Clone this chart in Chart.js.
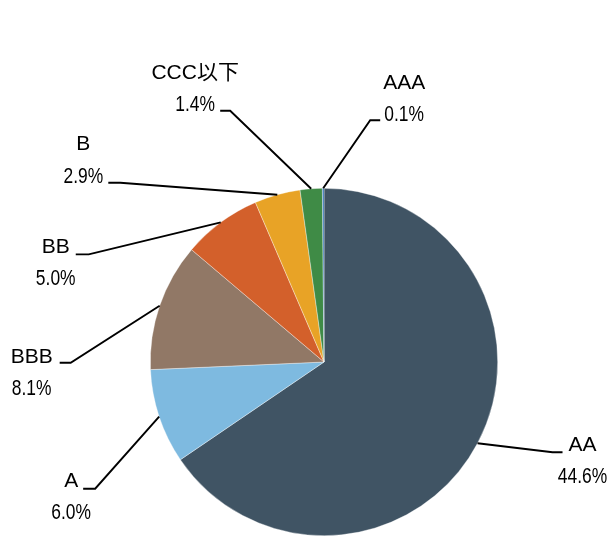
<!DOCTYPE html>
<html>
<head>
<meta charset="utf-8">
<script src="https://cdn.jsdelivr.net/npm/chart.js@4"></script>
<style>
  html, body { margin: 0; padding: 0; background: #fff; }
  #wrap { width: 610px; height: 538px; }
</style>
</head>
<body>
<div id="wrap"><canvas id="rating-pie" width="610" height="538"></canvas></div>
<script>
// Rating breakdown (share %), clockwise from 12 o'clock
const ratings = ['AA', 'A', 'BBB', 'BB', 'B', 'CCC以下', 'AAA'];
const shares = [44.6, 6.0, 8.1, 5.0, 2.9, 1.4, 0.1];
const sliceColors = ['#405464', '#7ebae0', '#917866', '#d3602b', '#e8a326', '#3f8b46', '#2d6db0'];

// leader line layout per label: elbow offset from slice edge, horizontal tail,
// text centre offset from tail end, first-line offset
const leaderLayout = [
  { dx: 75, dy: 9, tail: 10, tx: 20, ty: -7 },
  { dx: -64, dy: 72, tail: -12, tx: -12, ty: -8 },
  { dx: -89, dy: 57, tail: -11, tx: -28, ty: -6 },
  { dx: -132, dy: 32, tail: -13, tx: -20, ty: -7 },
  { dx: -157, dy: -12, tail: -12, tx: -25, ty: -38 },
  { dx: -81, dy: -78, tail: -10, tx: -25, ty: -38 },
  { dx: 47, dy: -68, tail: 10, tx: 24, ty: -37 }
];

const labelFont = '21px "Liberation Sans", "Noto Sans CJK JP", sans-serif';
const lineGap = 31;

const leaderLabels = {
  id: 'leaderLabels',
  afterDatasetsDraw(chart) {
    const ctx = chart.ctx;
    const arcs = chart.getDatasetMeta(0).data;
    ctx.save();
    arcs.forEach((arc, i) => {
      const p = arc.getProps(['x', 'y', 'startAngle', 'endAngle', 'outerRadius'], true);
      const mid = (p.startAngle + p.endAngle) / 2;
      const ex = p.x + Math.cos(mid) * p.outerRadius;
      const ey = p.y + Math.sin(mid) * p.outerRadius;
      const lay = leaderLayout[i];
      const bx = ex + lay.dx, by = ey + lay.dy;
      const tx = bx + lay.tail;

      ctx.strokeStyle = '#000';
      ctx.lineWidth = 1.9;
      ctx.beginPath();
      ctx.moveTo(ex, ey);
      ctx.lineTo(bx, by);
      ctx.lineTo(tx, by);
      ctx.stroke();

      const cx = tx + lay.tx;
      const y1 = by + lay.ty;
      ctx.fillStyle = '#000';
      ctx.font = labelFont;
      ctx.textAlign = 'center';
      ctx.textBaseline = 'middle';
      ctx.fillText(ratings[i], cx, y1);

      // percentages are set in a narrower face
      ctx.save();
      ctx.translate(cx, y1 + lineGap + 1);
      ctx.scale(0.83, 1.05);
      ctx.fillText(shares[i].toFixed(1) + '%', 0, 0);
      ctx.restore();
    });
    ctx.restore();
  }
};

new Chart(document.getElementById('rating-pie'), {
  type: 'pie',
  data: {
    labels: ratings,
    datasets: [{
      data: shares,
      backgroundColor: sliceColors,
      borderColor: 'rgba(255,255,255,0.6)',
      borderWidth: 0.6
    }]
  },
  options: {
    responsive: false,
    animation: false,
    layout: { padding: { left: 150, right: 112, top: 188, bottom: 2 } },
    plugins: {
      legend: { display: false },
      tooltip: { enabled: false }
    }
  },
  plugins: [leaderLabels]
});
</script>
</body>
</html>
